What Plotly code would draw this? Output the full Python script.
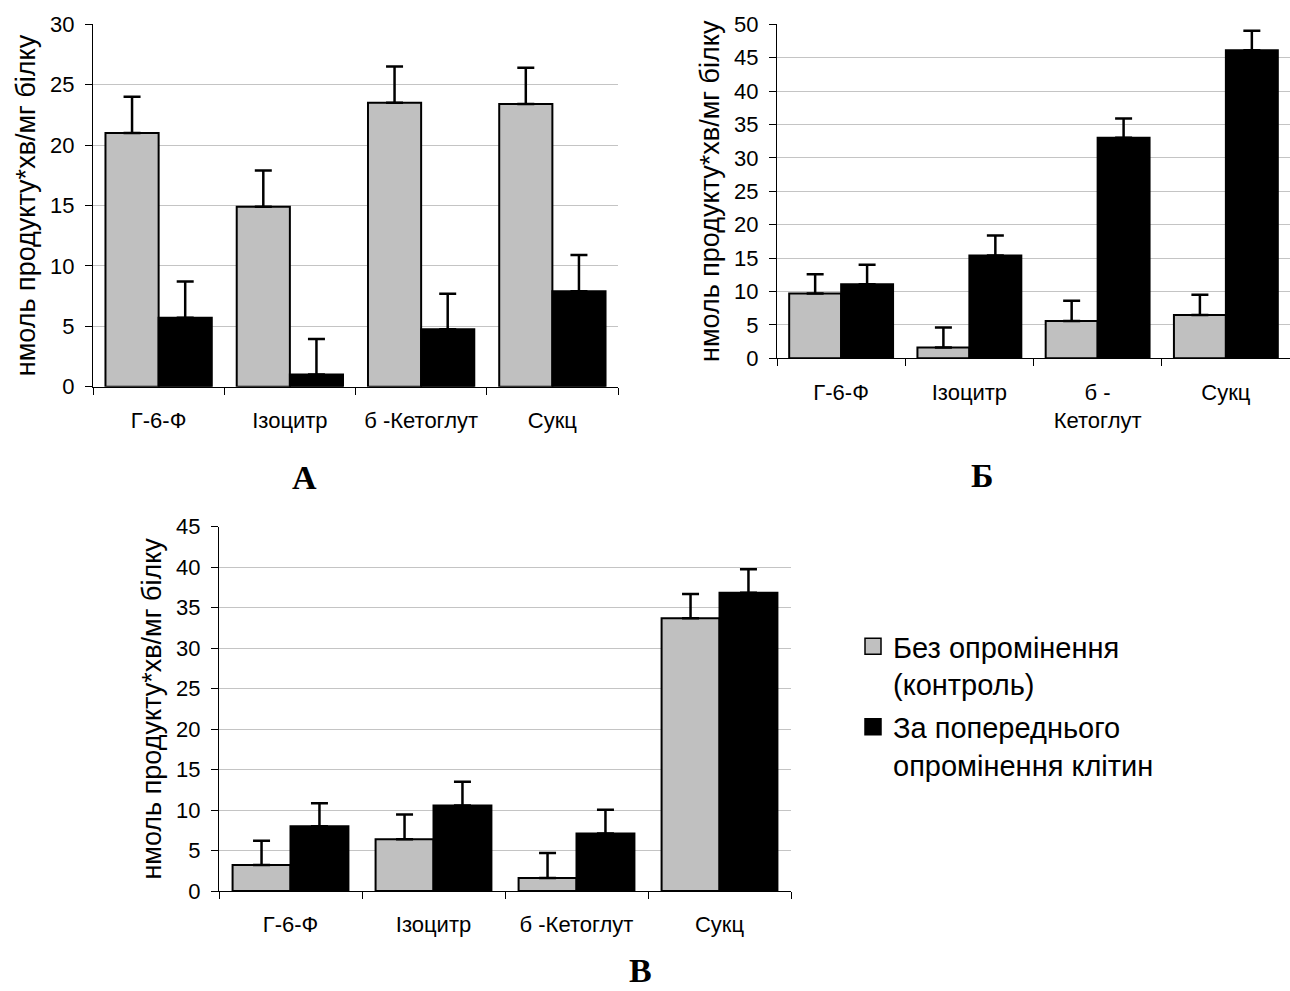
import plotly.graph_objects as go

# ---------------- data ----------------
cats_A = ["Г-6-Ф", "Ізоцитр", "б -Кетоглут", "Сукц"]
cats_B = ["Г-6-Ф", "Ізоцитр", "б -<br>Кетоглут", "Сукц"]
cats_C = ["Г-6-Ф", "Ізоцитр", "б -Кетоглут", "Сукц"]

A_control = [21.0, 14.9, 23.5, 23.4]
A_control_err = [3.0, 3.0, 3.0, 3.0]
A_irr = [5.7, 1.0, 4.75, 7.9]
A_irr_err = [3.0, 2.95, 2.95, 3.0]

B_control = [9.7, 1.6, 5.6, 6.5]
B_control_err = [2.9, 3.0, 3.0, 3.0]
B_irr = [11.1, 15.4, 33.0, 46.1]
B_irr_err = [2.9, 3.0, 2.9, 2.95]

C_control = [3.2, 6.4, 1.6, 33.7]
C_control_err = [3.0, 3.05, 3.1, 3.0]
C_irr = [8.0, 10.55, 7.1, 36.85]
C_irr_err = [2.85, 2.95, 2.95, 2.9]

series_names = ["Без опромінення<br>(контроль)", "За попереднього<br>опромінення клітин"]
panel_labels = ["А", "Б", "В"]
y_title = "нмоль продукту*хв/мг білку"
y_max = [30, 50, 45]

# ---------------- styling ----------------
W, H = 1290, 991
GRAY = "#c0c0c0"
BLACK = "#000000"
FONT = "Liberation Sans, Arial, sans-serif"
SERIF = "Liberation Serif, Times New Roman, serif"

fig = go.Figure()

panels = [
    ("x", "y", cats_A, A_control, A_control_err, A_irr, A_irr_err),
    ("x2", "y2", cats_B, B_control, B_control_err, B_irr, B_irr_err),
    ("x3", "y3", cats_C, C_control, C_control_err, C_irr, C_irr_err),
]

for xa, ya, cats, ctrl, ctrl_err, irr, irr_err in panels:
    for vals, errs, color in ((ctrl, ctrl_err, GRAY), (irr, irr_err, BLACK)):
        fig.add_trace(go.Bar(
            x=cats, y=vals, xaxis=xa, yaxis=ya,
            marker=dict(color=color, line=dict(color=BLACK, width=2)),
            error_y=dict(type="data", symmetric=False, array=errs,
                         arrayminus=[0] * len(errs), color=BLACK,
                         thickness=2.5, width=8.5),
            showlegend=False, hoverinfo="skip",
        ))

# legend entries
for k, (name, color) in enumerate(zip(series_names, (GRAY, BLACK))):
    fig.add_trace(go.Scatter(
        x=[None], y=[None], mode="markers", name=name,
        legendgroup="g%d" % k,
        marker=dict(symbol="square", size=16, color=color,
                    line=dict(color=BLACK, width=1.5)),
        xaxis="x3", yaxis="y3",
    ))


def px_x(p):
    return p / W


def px_y(p):
    return 1 - p / H


# plot-area positions in pixels (left, right, top, bottom)
areas = [
    (93, 618, 24.3, 386.7),
    (777, 1290, 24.3, 358.3),
    (219, 791, 526.7, 891),
]

layout = dict(
    width=W, height=H,
    margin=dict(l=0, r=0, t=0, b=0, autoexpand=False),
    paper_bgcolor="white", plot_bgcolor="white",
    barmode="group", bargap=0.19, bargroupgap=0,
    font=dict(family=FONT, color=BLACK),
    showlegend=True,
    legend=dict(x=px_x(853), y=px_y(621), xanchor="left", yanchor="top",
                valign="top", tracegroupgap=2,
                font=dict(size=29, family=FONT, color=BLACK),
                bgcolor="rgba(0,0,0,0)", itemclick=False, itemdoubleclick=False),
)

suffixes = ["", "2", "3"]
for i, (l, r, t, b) in enumerate(areas):
    s = suffixes[i]
    layout["xaxis" + s] = dict(
        domain=[px_x(l), px_x(r)], anchor="y" + s, type="category",
        tickson="boundaries", ticks="outside", ticklen=7, tickcolor=BLACK,
        tickwidth=1, showline=True, linecolor=BLACK, linewidth=1,
        showgrid=False, zeroline=False, automargin=False,
        tickfont=dict(size=22, family=FONT, color=BLACK),
        ticklabelstandoff=14,
    )
    layout["yaxis" + s] = dict(
        domain=[px_y(b), px_y(t)], anchor="x" + s,
        range=[0, y_max[i]], dtick=5, tick0=0,
        ticks="outside", ticklen=7, tickcolor=BLACK, tickwidth=1,
        showline=True, linecolor=BLACK, linewidth=1,
        showgrid=True, gridcolor="#c4c4c4", gridwidth=1,
        zeroline=False, automargin=False,
        tickfont=dict(size=22, family=FONT, color=BLACK),
        ticklabelstandoff=6,
        title=dict(text=y_title, font=dict(size=27, family=FONT, color=BLACK),
                   standoff=6),
    )

fig.update_layout(**layout)

# panel letters (x px, y px, anchor)
letter_pos = [(304, 477, "middle"), (982, 475, "middle"), (640, 991, "bottom")]
for lab, (lx, ly, anc) in zip(panel_labels, letter_pos):
    fig.add_annotation(
        text=lab, x=px_x(lx), y=px_y(ly), xref="paper", yref="paper",
        xanchor="center", yanchor=anc, showarrow=False,
        font=dict(size=34, family=SERIF, color=BLACK, weight="bold"),
    )

fig.write_html("out.html", config={"displayModeBar": False},
               post_script="document.body.style.margin='0';")
